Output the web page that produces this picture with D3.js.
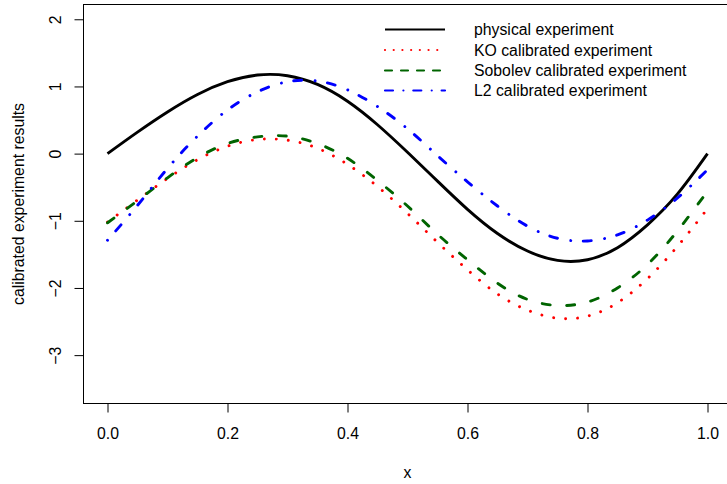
<!DOCTYPE html>
<html>
<head>
<meta charset="utf-8">
<script src="https://cdn.jsdelivr.net/npm/d3@7"></script>
<style>
  html, body { margin: 0; padding: 0; background: #fff; }
  svg { display: block; }
  text { font-family: "Liberation Sans", Arial, Helvetica, sans-serif; fill: #000; }
</style>
</head>
<body>
<svg id="chart" width="727" height="484"></svg>
<script>
// Input locations
const xs = [0, 0.05, 0.1, 0.15, 0.2, 0.25, 0.3, 0.35, 0.4, 0.45, 0.5,
            0.55, 0.6, 0.65, 0.7, 0.75, 0.8, 0.85, 0.9, 0.95, 1.0];

// Responses
const physical = [0, 0.32, 0.62, 0.88, 1.07, 1.17, 1.16, 1.03, 0.78, 0.43, 0.02,
                  -0.41, -0.83, -1.19, -1.45, -1.59, -1.58, -1.40, -1.06, -0.60, 0.0];
const koCalibrated = [-1.02, -0.69, -0.37, -0.09, 0.11, 0.21, 0.20, 0.08, -0.16, -0.49, -0.89,
                      -1.32, -1.73, -2.09, -2.33, -2.45, -2.42, -2.22, -1.86, -1.38, -0.82];
const sobolevCalibrated = [-1.03, -0.70, -0.36, -0.06, 0.15, 0.25, 0.26, 0.15, -0.07, -0.40, -0.78,
                           -1.20, -1.58, -1.93, -2.17, -2.26, -2.21, -2.00, -1.65, -1.15, -0.56];
const l2Calibrated = [-1.29, -0.77, -0.22, 0.26, 0.65, 0.92, 1.07, 1.08, 0.95, 0.70, 0.37,
                      -0.03, -0.42, -0.78, -1.08, -1.26, -1.30, -1.21, -0.99, -0.66, -0.24];

// Axis ticks and limits
const xTicks = [0, 0.2, 0.4, 0.6, 0.8, 1.0];
const yTicks = [-3, -2, -1, 0, 1, 2];
const xLim = [0, 1];
const yLim = [-3.5, 2];

const seriesNames = ["physical experiment", "KO calibrated experiment",
                     "Sobolev calibrated experiment", "L2 calibrated experiment"];
const seriesValues = [physical, koCalibrated, sobolevCalibrated, l2Calibrated];

// Line styles per series: solid, dotted, dashed, dot-dash
const styles = [
  { color: "#000000", dash: null, cap: "butt" },
  { color: "#ff0000", dash: "0.01,12", cap: "round" },
  { color: "#006400", dash: "8,16.5", cap: "round" },
  { color: "#0000ff", dash: "0.01,12.5,8,13.5", cap: "round" }
];
const legendStyles = [
  { dash: null, cap: "butt" },
  { dash: "0.01,8.7", cap: "round" },
  { dash: "7,9", cap: "round" },
  { dash: "8,10.4,0.01,9.9", cap: "round" }
];

const svg = d3.select("#chart");
const FONT = 15.8;

// Plot region (axis ranges padded by 4% on each side)
const plot = { left: 83.5, right: 731.5, top: 4.5, bottom: 403.5 };
const padX = (xLim[1] - xLim[0]) * 0.04;
const padY = (yLim[1] - yLim[0]) * 0.04;

const x = d3.scaleLinear()
  .domain([xLim[0] - padX, xLim[1] + padX])
  .range([plot.left, plot.right]);
const y = d3.scaleLinear()
  .domain([yLim[0] - padY, yLim[1] + padY])
  .range([plot.bottom, plot.top]);

// Curves
const line = d3.line()
  .x(d => x(d[0]))
  .y(d => y(d[1]))
  .curve(d3.curveNatural);

seriesValues.forEach((vals, i) => {
  const st = styles[i];
  svg.append("path")
    .datum(xs.map((xv, j) => [xv, vals[j]]))
    .attr("d", line)
    .attr("fill", "none")
    .attr("stroke", st.color)
    .attr("stroke-width", 2.9)
    .attr("stroke-linecap", st.cap)
    .attr("stroke-linejoin", "round")
    .attr("stroke-dasharray", st.dash);
});

// Frame
svg.append("rect")
  .attr("x", plot.left)
  .attr("y", plot.top)
  .attr("width", plot.right - plot.left)
  .attr("height", plot.bottom - plot.top)
  .attr("fill", "none")
  .attr("stroke", "#000")
  .attr("stroke-width", 1);

// X axis
const xAxis = svg.append("g")
  .attr("transform", `translate(0,${plot.bottom})`)
  .call(d3.axisBottom(x).tickValues(xTicks).tickSize(9).tickPadding(0).tickFormat(d3.format(".1f")));
xAxis.select(".domain").remove();
xAxis.append("line")
  .attr("x1", x(xTicks[0])).attr("x2", x(xTicks[xTicks.length - 1]))
  .attr("stroke", "#000");
xAxis.selectAll(".tick line").attr("stroke", "#000");
xAxis.selectAll(".tick text")
  .attr("y", 29.5)
  .attr("dy", "0.35em")
  .attr("font-size", FONT)
  .style("font-family", "'Liberation Sans', Arial, sans-serif")
  .attr("fill", "#000");

// Y axis
const yAxis = svg.append("g")
  .attr("transform", `translate(${plot.left},0)`)
  .call(d3.axisLeft(y).tickValues(yTicks).tickSize(9).tickFormat(d3.format("d")));
yAxis.select(".domain").remove();
yAxis.append("line")
  .attr("y1", y(yTicks[0])).attr("y2", y(yTicks[yTicks.length - 1]))
  .attr("stroke", "#000");
yAxis.selectAll(".tick line").attr("stroke", "#000");
yAxis.selectAll(".tick text")
  .attr("x", null)
  .attr("dy", null)
  .attr("text-anchor", "middle")
  .attr("dominant-baseline", "central")
  .attr("transform", "translate(-28,0) rotate(-90)")
  .attr("font-size", FONT)
  .style("font-family", "'Liberation Sans', Arial, sans-serif")
  .attr("fill", "#000");

// Axis titles
svg.append("text")
  .attr("x", x(0.5))
  .attr("y", 472)
  .attr("text-anchor", "middle")
  .attr("dominant-baseline", "central")
  .attr("font-size", FONT)
  .text("x");

svg.append("text")
  .attr("transform", `translate(18.5,${(plot.top + plot.bottom) / 2}) rotate(-90)`)
  .attr("text-anchor", "middle")
  .attr("dominant-baseline", "central")
  .attr("font-size", FONT)
  .text("calibrated experiment results");

// Legend
const legend = svg.append("g");
const legendRowY = [29.5, 50, 70.5, 90.5];
seriesNames.forEach((name, i) => {
  const ly = legendRowY[i];
  legend.append("line")
    .attr("x1", 385).attr("x2", 445)
    .attr("y1", ly).attr("y2", ly)
    .attr("stroke", styles[i].color)
    .attr("stroke-width", 2.2)
    .attr("stroke-linecap", legendStyles[i].cap)
    .attr("stroke-dasharray", legendStyles[i].dash);
  legend.append("text")
    .attr("x", 474)
    .attr("y", ly)
    .attr("dominant-baseline", "central")
    .attr("font-size", FONT)
    .text(name);
});
</script>
</body>
</html>
